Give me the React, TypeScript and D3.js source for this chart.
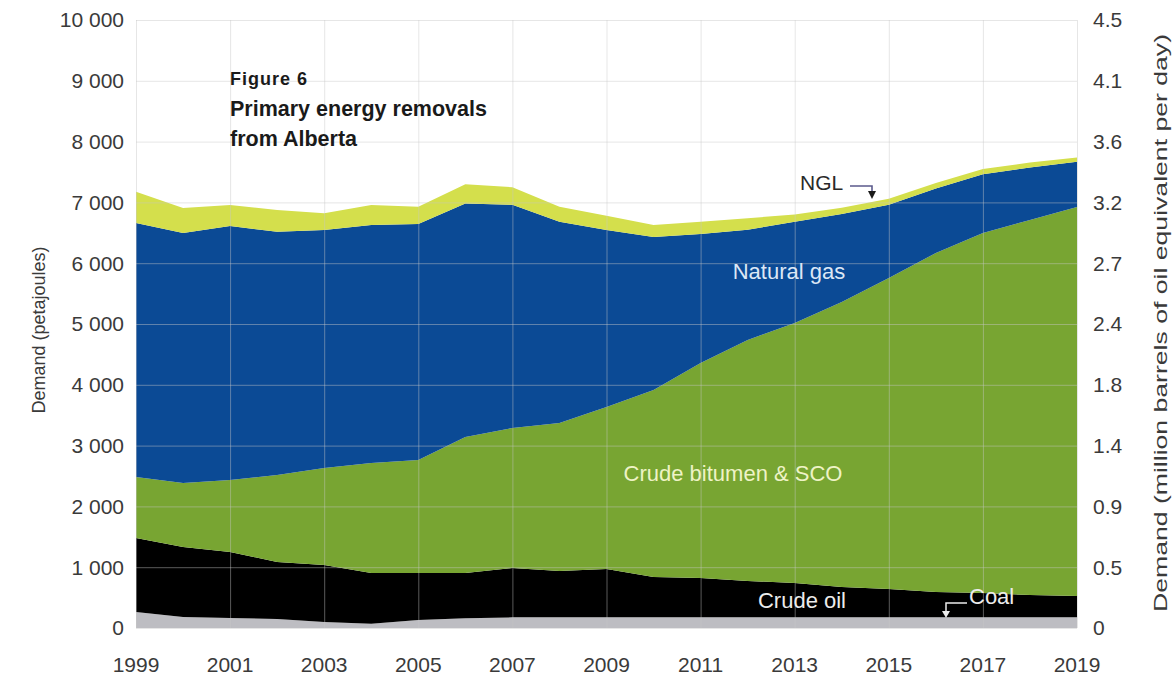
import React from "react";
import * as d3 from "d3";

const years = [1999, 2000, 2001, 2002, 2003, 2004, 2005, 2006, 2007, 2008, 2009, 2010, 2011, 2012, 2013, 2014, 2015, 2016, 2017, 2018, 2019];
const coal = [263, 181, 164, 148, 99, 70, 131, 160, 175, 175, 175, 175, 175, 175, 175, 175, 175, 175, 175, 175, 175];
const crudeOil = [1217, 1151, 1086, 938, 937, 835, 774, 745, 812, 763, 795, 664, 647, 598, 565, 499, 466, 417, 401, 368, 351];
const bitumen = [1004, 1053, 1184, 1430, 1596, 1809, 1858, 2236, 2302, 2434, 2665, 3075, 3536, 3964, 4276, 4688, 5116, 5576, 5920, 6168, 6399];
const naturalGas = [4176, 4110, 4178, 4002, 3914, 3914, 3882, 3839, 3671, 3308, 2911, 2516, 2122, 1813, 1664, 1448, 1203, 1062, 969, 864, 745];
const ngl = [516, 411, 345, 357, 274, 329, 285, 320, 290, 250, 234, 200, 200, 190, 120, 100, 100, 90, 85, 80, 70];

const leftTicks = [0, 1000, 2000, 3000, 4000, 5000, 6000, 7000, 8000, 9000, 10000];
const rightTickLabels = ["0", "0.5", "0.9", "1.4", "1.8", "2.4", "2.7", "3.2", "3.6", "4.1", "4.5"];
const xTickYears = [1999, 2001, 2003, 2005, 2007, 2009, 2011, 2013, 2015, 2017, 2019];

const seriesKeys = ["coal", "crudeOil", "bitumen", "naturalGas", "ngl"];
const seriesColors: Record<string, string> = {
  coal: "#bdbdc2",
  crudeOil: "#000000",
  bitumen: "#78a532",
  naturalGas: "#0b4a95",
  ngl: "#d4df4c",
};

const FONT = "'Liberation Sans', Arial, Helvetica, sans-serif";

export default function App() {
  const width = 1176;
  const height = 678;
  const x = d3.scaleLinear().domain([1999, 2019]).range([136, 1077]);
  const y = d3.scaleLinear().domain([0, 10000]).range([628, 20]);

  const table = years.map((yr, i) => ({
    year: yr,
    coal: coal[i],
    crudeOil: crudeOil[i],
    bitumen: bitumen[i],
    naturalGas: naturalGas[i],
    ngl: ngl[i],
  }));
  const stacked = d3.stack<any>().keys(seriesKeys)(table);
  const area = d3
    .area<any>()
    .x((d) => x(d.data.year))
    .y0((d) => y(d[0]))
    .y1((d) => y(d[1]))
    .curve(d3.curveLinear);

  const fmt = (v: number) => (v >= 1000 ? `${Math.floor(v / 1000)} ${String(v % 1000).padStart(3, "0")}` : String(v));

  const [x0, x1] = x.range();

  return (
    <svg width={width} height={height} style={{ position: "absolute", left: 0, top: 0, background: "#fff" }} fontFamily={FONT}>
      <rect x={0} y={0} width={width} height={height} fill="#fff" />
      {stacked.map((s) => (
        <path key={s.key} d={area(s) || ""} fill={seriesColors[s.key]} />
      ))}
      <g stroke="#c8c8c8" strokeOpacity={0.45} strokeWidth={1}>
        {leftTicks.map((t) => (
          <line key={"h" + t} x1={x0} x2={x1} y1={y(t) + 0.5} y2={y(t) + 0.5} />
        ))}
        {xTickYears.map((yr) => (
          <line key={"v" + yr} x1={x(yr) + 0.5} x2={x(yr) + 0.5} y1={y(10000)} y2={y(0)} />
        ))}
      </g>
      <g fontSize={21} fill="#3a3a3a" textAnchor="end">
        {leftTicks.map((t) => (
          <text key={"l" + t} x={124} y={y(t)} dy="0.35em">
            {fmt(t)}
          </text>
        ))}
      </g>
      <g fontSize={21} fill="#3a3a3a" textAnchor="start">
        {leftTicks.map((t, i) => (
          <text key={"r" + t} x={1093} y={y(t)} dy="0.35em">
            {rightTickLabels[i]}
          </text>
        ))}
      </g>
      <g fontSize={21} fill="#3a3a3a" textAnchor="middle">
        {xTickYears.map((yr) => (
          <text key={"x" + yr} x={x(yr)} y={672}>
            {yr}
          </text>
        ))}
      </g>
      <text transform="translate(45,330) rotate(-90)" textAnchor="middle" fontSize={18} fill="#3a3a3a">
        Demand (petajoules)
      </text>
      <text transform="translate(1167,323) rotate(-90)" textAnchor="middle" fontSize={19} fill="#3a3a3a" textLength={578} lengthAdjust="spacingAndGlyphs">
        Demand (million barrels of oil equivalent per day)
      </text>
      <text x={230} y={85} fontSize={18} fontWeight={700} letterSpacing={1} fill="#1a1a1a">
        Figure 6
      </text>
      <text x={230} y={116} fontSize={21.5} fontWeight={700} fill="#1a1a1a">
        Primary energy removals
      </text>
      <text x={230} y={146} fontSize={21.5} fontWeight={700} fill="#1a1a1a">
        from Alberta
      </text>
      <text x={789} y={279} fontSize={22} fill="#dce7f5" textAnchor="middle">
        Natural gas
      </text>
      <text x={733} y={481} fontSize={22} fill="#eef3c6" textAnchor="middle">
        Crude bitumen &amp; SCO
      </text>
      <text x={802} y={608} fontSize={22} fill="#ececec" textAnchor="middle">
        Crude oil
      </text>
      <text x={969} y={604} fontSize={22} fill="#ececec">
        Coal
      </text>
      <path d="M967,603 H946 V612" fill="none" stroke="#ececec" strokeWidth={1.5} />
      <path d="M942,611 L950,611 L946,618 Z" fill="#ececec" />
      <text x={800} y={190} fontSize={21} fill="#2a2a2a">
        NGL
      </text>
      <path d="M850,186 H872 V192" fill="none" stroke="#5b5a8c" strokeWidth={1.6} />
      <path d="M868,191 L876,191 L872,199 Z" fill="#1a1a1a" />
    </svg>
  );
}
